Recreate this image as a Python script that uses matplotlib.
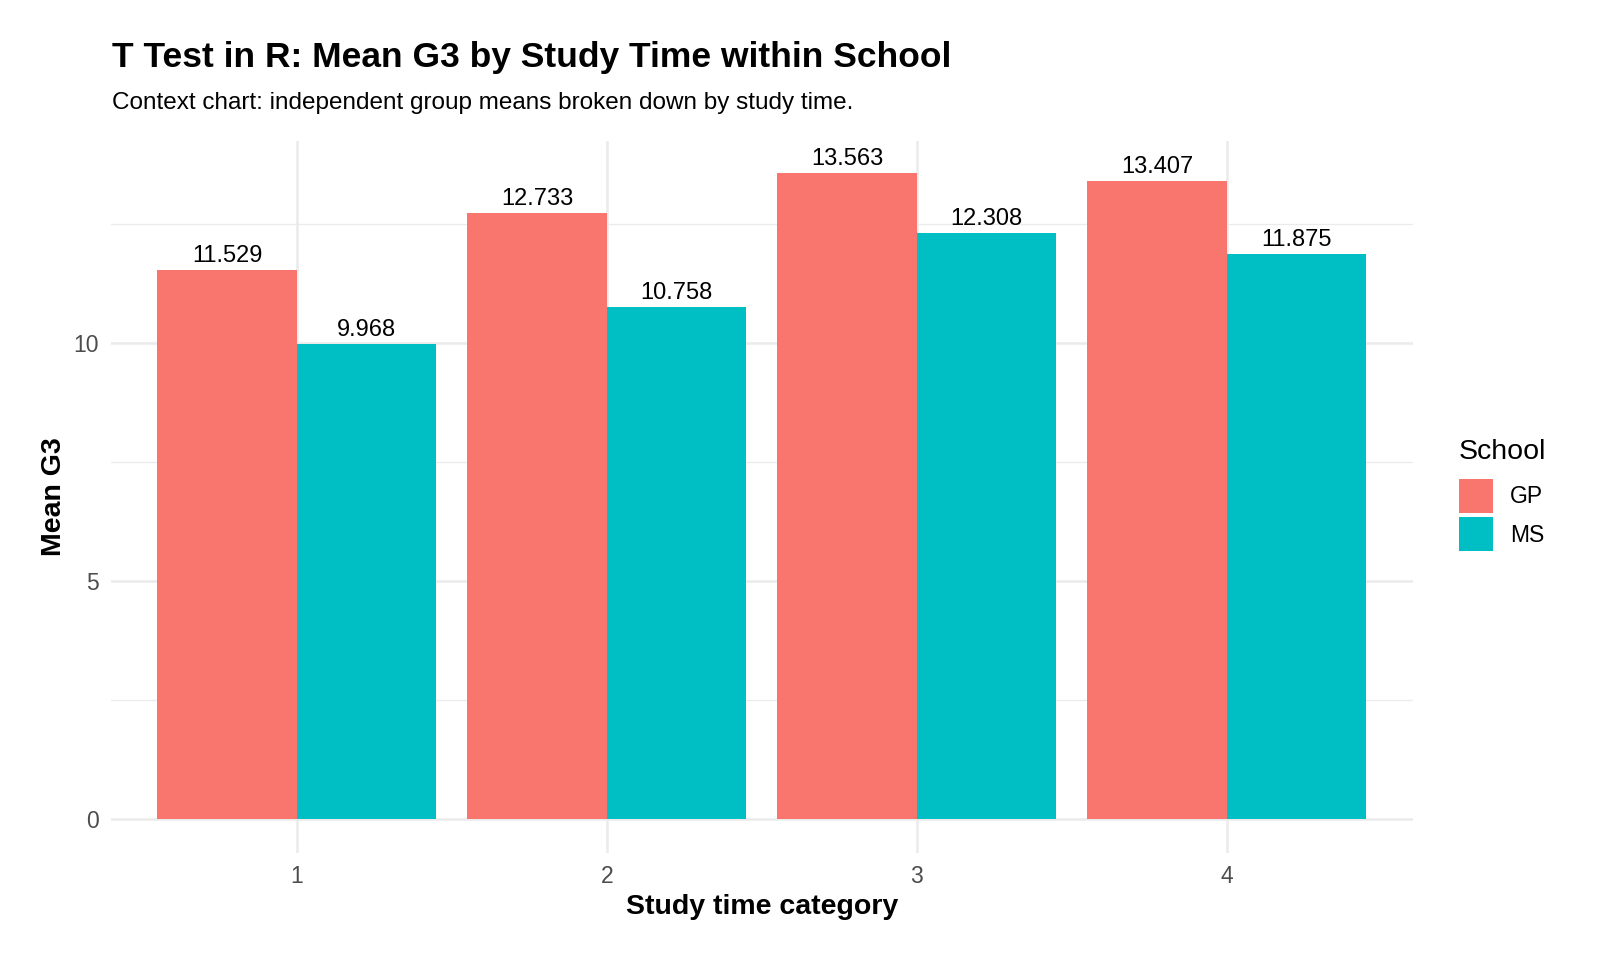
import matplotlib.pyplot as plt
import numpy as np
from matplotlib.patches import Patch

plt.rcParams['font.family'] = ['Liberation Sans', 'DejaVu Sans']

# data
study_time = ['1', '2', '3', '4']
schools = ['GP', 'MS']
gp_mean = [11.529, 12.733, 13.563, 13.407]
ms_mean = [9.968, 10.758, 12.308, 11.875]
colors = {'GP': '#F8766D', 'MS': '#00BFC4'}

fig = plt.figure(figsize=(16, 9.6), dpi=100)
ax = fig.add_axes([0.0693, 0.1115, 0.8137, 0.7418])

x = np.arange(1, len(study_time) + 1)
w = 0.45
for vals, name, off in [(gp_mean, 'GP', -w / 2), (ms_mean, 'MS', w / 2)]:
    ax.bar(x + off, vals, width=w, color=colors[name], zorder=2)
    for xi, v in zip(x + off, vals):
        ax.text(xi, v + 0.06, f'{v:.3f}', ha='center', va='bottom',
                fontsize=17, color='black', zorder=3)

ymax = max(gp_mean)
ax.set_ylim(-0.05 * ymax * 1.05, ymax * 1.05)
ax.set_xlim(0.4, 4.6)

# theme_minimal style grid
ax.set_yticks([0, 5, 10])
ax.set_yticks([2.5, 7.5, 12.5], minor=True)
ax.set_xticks(x)
ax.set_xticklabels(study_time)
ax.grid(which='major', color='#EBEBEB', linewidth=1.8, zorder=0)
ax.grid(which='minor', axis='y', color='#EBEBEB', linewidth=0.9, zorder=0)
ax.tick_params(which='both', length=0, labelsize=16.5, labelcolor='#4D4D4D')
ax.tick_params(axis='y', pad=8.5)
ax.tick_params(axis='x', pad=8.5)
for s in ax.spines.values():
    s.set_visible(False)

ax.set_xlabel('Study time category', fontsize=20.5, fontweight='bold', labelpad=4.5)
ax.set_ylabel('Mean G3', fontsize=20.5, fontweight='bold', labelpad=4.5)

fig.text(112 / 1600, 1 - 57 / 960, 'T Test in R: Mean G3 by Study Time within School',
         fontsize=25.5, fontweight='bold', va='center', ha='left')
fig.text(112 / 1600, 1 - 103 / 960, 'Context chart: independent group means broken down by study time.',
         fontsize=17.5, va='center', ha='left')

handles = [Patch(facecolor=colors[s], edgecolor='none') for s in schools]
leg = fig.legend(handles, schools, title='School', loc='center left',
                 bbox_to_anchor=(1459 / 1600, 1 - 495 / 960), frameon=False,
                 fontsize=16.5, title_fontsize=20.5, handlelength=1.48, handleheight=1.9,
                 labelspacing=0.2, handletextpad=0.75, borderpad=0, borderaxespad=0)
leg._legend_box.align = 'left'
leg._legend_box.sep = 10  # more room under the legend title

fig.savefig('out.png', dpi=100, facecolor='white')
